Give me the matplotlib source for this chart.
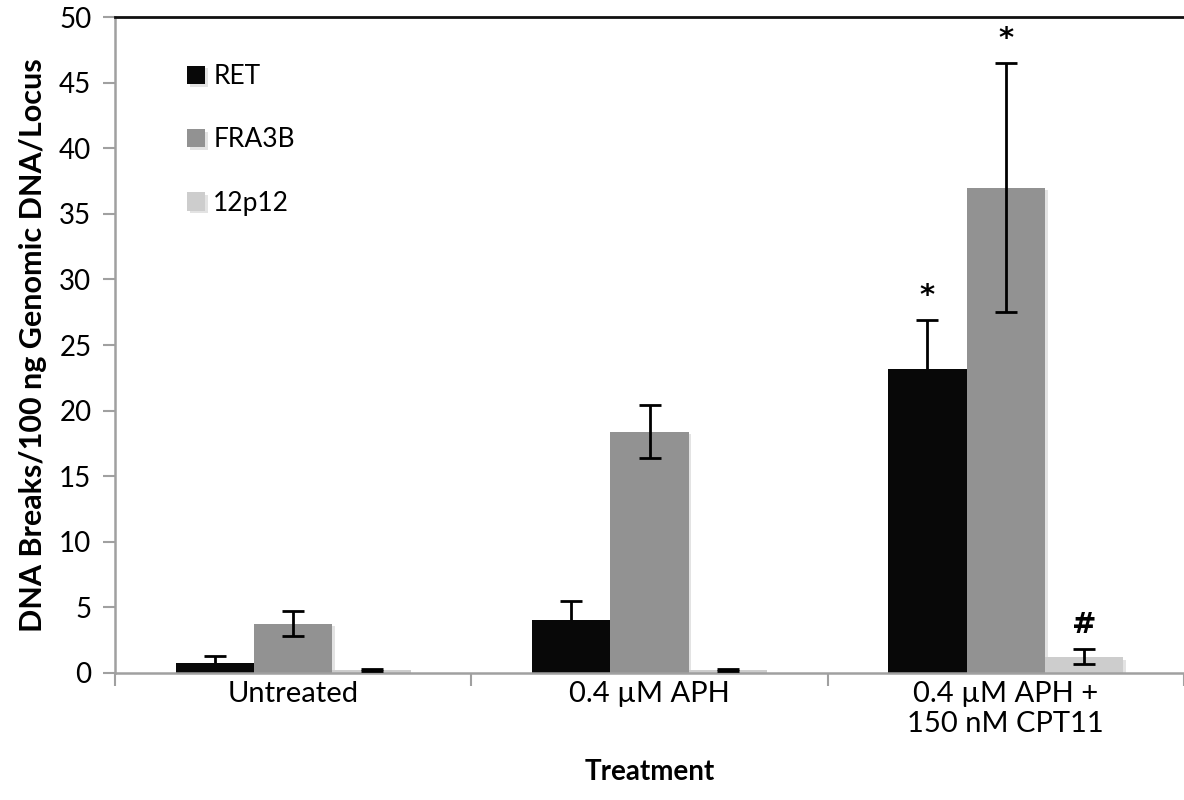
import numpy as np
import matplotlib
matplotlib.use("Agg")
import matplotlib.pyplot as plt
import matplotlib.patheffects as pe

plt.rcParams["font.family"] = ["Lato", "DejaVu Sans"]

categories = ["Untreated", "0.4 \u00b5M APH", "0.4 \u00b5M APH +\n150 nM CPT11"]
series_names = ["RET", "FRA3B", "12p12"]
ret_values = [0.75, 4.0, 23.2]
ret_errors = [0.5, 1.5, 3.7]
fra3b_values = [3.75, 18.4, 37.0]
fra3b_errors = [0.95, 2.0, 9.5]
p12_values = [0.2, 0.2, 1.2]
p12_errors = [0.06, 0.06, 0.57]
# significance marks: (category index, series index, text)
marks = [(2, 0, "*"), (2, 1, "*"), (2, 2, "#")]

colors = ["#080808", "#929292", "#cdcdcd"]
values = [ret_values, fra3b_values, p12_values]
errors = [ret_errors, fra3b_errors, p12_errors]

fig = plt.figure(figsize=(11.84, 8), dpi=100)
ax = fig.add_axes([115 / 1184, 127.3 / 800, (1184 - 115) / 1184, 655.4 / 800])

x = np.arange(len(categories))
width = 0.22
offsets = [-width, 0, width]

shadow = [pe.SimplePatchShadow(offset=(2, -2), shadow_rgbFace="#c8c8c8", alpha=0.5), pe.Normal()]
for i, (name, vals, errs, color, off) in enumerate(zip(series_names, values, errors, colors, offsets)):
    bars = ax.bar(x + off, vals, width, color=color, label=name, zorder=2)
    for b in bars:
        b.set_path_effects(shadow)
    # black-on-black: the lower half of the RET bars is hidden in the bar
    ax.errorbar(x + off, vals, yerr=errs, fmt="none", ecolor="black",
                elinewidth=2, capsize=8, capthick=2, zorder=1.5 if i == 0 else 3)

for ci, si, txt in marks:
    top = values[si][ci] + errors[si][ci]
    ax.text(x[ci] + offsets[si], top + 0.8, txt, ha="center", va="bottom",
            fontsize=21, fontweight="bold", family="DejaVu Sans")

ax.set_xlim(-0.5, 2.49)
ax.set_ylim(0, 50)
ax.set_yticks(range(0, 51, 5))
ax.set_xticks(x)
ax.set_xticklabels(categories, fontsize=21)
ax.set_xticks([-0.5, 0.5, 1.5, 2.5], minor=True)
ax.tick_params(axis="x", which="major", length=0, pad=6)
ax.tick_params(axis="x", which="minor", length=9, width=1.5, color="#a0a0a0", direction="out")
ax.tick_params(axis="y", labelsize=20, length=9, width=1.5, color="#a0a0a0", pad=8)

for side in ["left", "bottom"]:
    ax.spines[side].set_color("#a0a0a0")
    ax.spines[side].set_linewidth(1.8)
ax.spines["top"].set_color("#111111")
ax.spines["top"].set_linewidth(2)
ax.spines["right"].set_visible(False)

ax.set_ylabel("DNA Breaks/100 ng Genomic DNA/Locus", fontsize=22, fontweight="bold", labelpad=9)
ax.set_xlabel("Treatment", fontsize=20, fontweight="bold", labelpad=16)

leg = ax.legend(loc="upper left", bbox_to_anchor=(0.045, 0.965), frameon=False,
                fontsize=19, labelspacing=1.45, handlelength=0.7, handleheight=0.7,
                handletextpad=0.3)

fig.savefig("out.png", dpi=100)
